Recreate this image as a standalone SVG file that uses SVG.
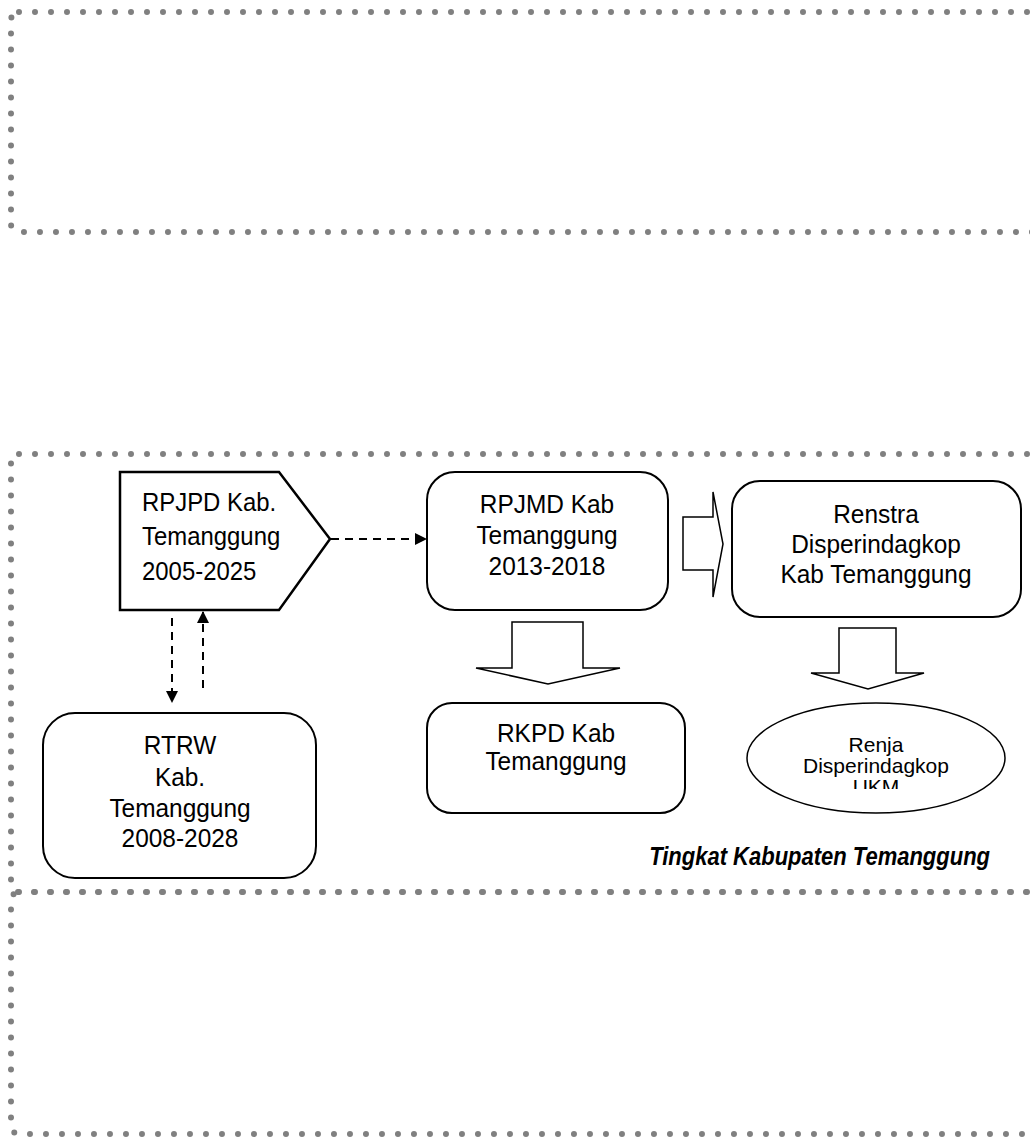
<svg xmlns="http://www.w3.org/2000/svg" width="1030" height="1137" viewBox="0 0 1030 1137">
<style>
.frame{fill:none;stroke:#808080;stroke-width:6;stroke-dasharray:0 16;stroke-linecap:round}
.box{fill:#fff;stroke:#000;stroke-width:2}
.blk{fill:#fff;stroke:#000;stroke-width:1.5}
.dash{fill:none;stroke:#000;stroke-width:2;stroke-dasharray:8 6}
.t{font-family:"Liberation Sans",Arial,sans-serif;font-size:26px;fill:#000}
.c{text-anchor:middle}
.s{font-size:21px}
.lbl{font-family:"Liberation Sans",Arial,sans-serif;font-size:25px;font-weight:bold;font-style:italic;text-anchor:end}
</style>
<defs>
<marker id="ah" viewBox="0 0 12 12" refX="11" refY="6" markerWidth="12" markerHeight="12" markerUnits="userSpaceOnUse" orient="auto">
<path d="M0,0 L12,6 L0,12 Z" fill="#000"/>
</marker>
<clipPath id="ukmclip"><rect x="-200" y="-40" width="400" height="35"/></clipPath>
</defs>
<rect width="1030" height="1137" fill="#fff"/>
<g id="frames">
<rect class="frame" x="11" y="12" width="1040" height="220" rx="8"/>
<rect class="frame" x="11" y="454" width="1040" height="438" rx="8"/>
<rect class="frame" x="11" y="892" width="1040" height="242" rx="8"/>
</g>
<g id="connectors">
<line class="dash" x1="331" y1="539" x2="426" y2="539" marker-end="url(#ah)"/>
<line class="dash" x1="172" y1="618" x2="172" y2="702" marker-end="url(#ah)"/>
<line class="dash" x1="203" y1="688" x2="203" y2="612" marker-end="url(#ah)"/>
<polygon class="blk" points="683,517 713,517 713,492 723,544 713,597 713,570 683,570"/>
<polygon class="blk" points="512,622 583,622 583,668 620,668 548,684 476,668 512,668"/>
<polygon class="blk" points="839,628 896,628 896,673 924,673 868,689 811,673 839,673"/>
</g>
<g id="rpjpd">
<path d="M120,472 L279,472 L330,539 L279,610 L120,610 Z" fill="#fff" stroke="#000" stroke-width="2.5"/>
<text class="t" transform="translate(142,511) scale(0.92,1)">RPJPD Kab.</text>
<text class="t" transform="translate(142,545) scale(0.92,1)">Temanggung</text>
<text class="t" transform="translate(142,580) scale(0.92,1)">2005-2025</text>
</g>
<g id="rpjmd">
<rect class="box" x="427" y="472" width="241" height="138" rx="28"/>
<text class="t c" transform="translate(547,513) scale(0.94,1)">RPJMD Kab</text>
<text class="t c" transform="translate(547,544) scale(0.94,1)">Temanggung</text>
<text class="t c" transform="translate(547,575) scale(0.94,1)">2013-2018</text>
</g>
<g id="renstra">
<rect class="box" x="732" y="481" width="289" height="136" rx="28"/>
<text class="t c" transform="translate(876,523) scale(0.94,1)">Renstra</text>
<text class="t c" transform="translate(876,553) scale(0.94,1)">Disperindagkop</text>
<text class="t c" transform="translate(876,583) scale(0.94,1)">Kab Temanggung</text>
</g>
<g id="rtrw">
<rect class="box" x="43" y="713" width="273" height="165" rx="32"/>
<text class="t c" transform="translate(180,754) scale(0.94,1)">RTRW</text>
<text class="t c" transform="translate(180,786) scale(0.94,1)">Kab.</text>
<text class="t c" transform="translate(180,817) scale(0.94,1)">Temanggung</text>
<text class="t c" transform="translate(180,847) scale(0.94,1)">2008-2028</text>
</g>
<g id="rkpd">
<rect class="box" x="427" y="703" width="258" height="110" rx="25"/>
<text class="t c" transform="translate(556,742) scale(0.94,1)">RKPD Kab</text>
<text class="t c" transform="translate(556,770) scale(0.94,1)">Temanggung</text>
</g>
<g id="renja">
<ellipse cx="876" cy="758" rx="129" ry="55" fill="#fff" stroke="#000" stroke-width="1.5"/>
<text class="t c s" x="876" y="752">Renja</text>
<text class="t c s" x="876" y="773">Disperindagkop</text>
<text class="t c s" transform="translate(876,794)" clip-path="url(#ukmclip)">UKM</text>
</g>
<g id="label">
<text class="lbl" transform="translate(990,865) scale(0.88,1)">Tingkat Kabupaten Temanggung</text>
</g>
</svg>
